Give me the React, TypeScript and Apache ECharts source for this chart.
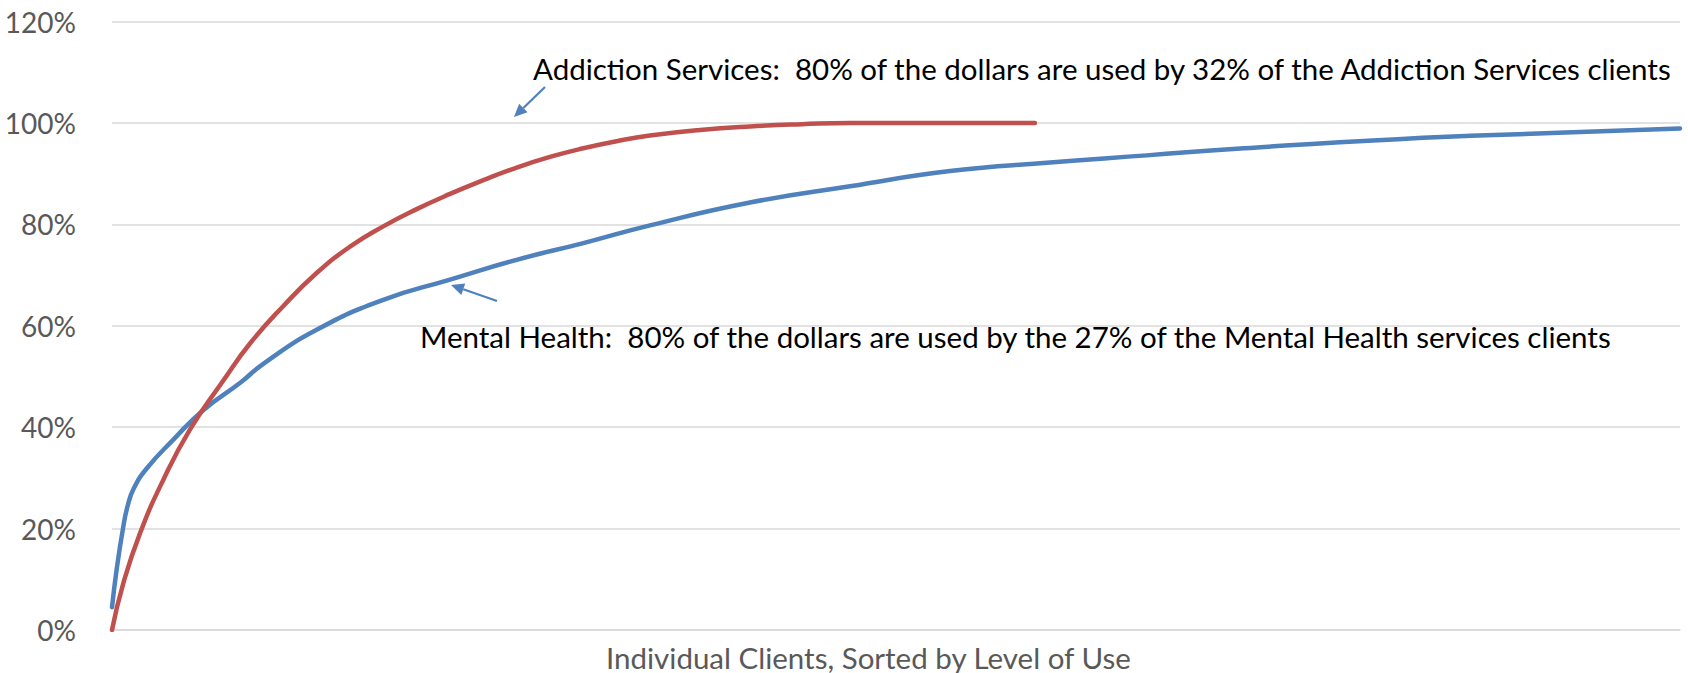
import React, { useEffect, useRef } from "react";
import * as echarts from "echarts";

// Share of clients (%, sorted by level of use) and cumulative share of dollars (%)
const mentalHealthX = [0, 0.3, 0.7, 1.0, 1.4, 2.2, 3.9, 5.8, 8.2, 9.65, 13.05, 17.3, 21.56, 25.81, 30.06, 34.31, 40.69, 47.07, 53.44, 59.82, 66, 72.2, 82, 91.8, 100];
const mentalHealthY = [4.5, 12, 20, 24.5, 28, 31.8, 37.5, 43.3, 48.8, 52.5, 59.2, 65.1, 69.1, 73.0, 76.3, 79.8, 84.3, 87.5, 90.5, 92.2, 93.6, 95.0, 96.8, 98.0, 98.9];

const addictionX = [0, 0.72, 1.79, 3.27, 4.97, 7.1, 8.8, 10.93, 13.05, 15.18, 17.3, 19.43, 21.56, 23.68, 25.81, 27.93, 30.06, 32.19, 34.31, 37.5, 40.69, 44, 47.07, 58.86];
const addictionY = [0, 9.2, 19.1, 29.6, 39.5, 49.2, 56.5, 63.9, 70.4, 75.6, 79.6, 83.0, 86.0, 88.7, 91.2, 93.3, 95.0, 96.4, 97.5, 98.6, 99.3, 99.75, 100, 100];

const yTicks = [0, 20, 40, 60, 80, 100, 120];

const seriesNames = ["Mental Health", "Addiction Services"];
const xAxisTitle = "Individual Clients, Sorted by Level of Use";
const addictionNote = "Addiction Services:  80% of the dollars are used by 32% of the Addiction Services clients";
const mentalNote = "Mental Health:  80% of the dollars are used by the 27% of the Mental Health services clients";

const FONT = "Lato, 'Noto Sans', sans-serif";
const BLUE = "#4F81BD";
const RED = "#C0504D";

function arrow(x1: number, y1: number, x2: number, y2: number) {
  const ang = Math.atan2(y2 - y1, x2 - x1);
  const len = 13;
  const half = 6;
  const bx = x2 - len * Math.cos(ang);
  const by = y2 - len * Math.sin(ang);
  const px = -Math.sin(ang) * half;
  const py = Math.cos(ang) * half;
  return [
    {
      type: "line",
      shape: { x1, y1, x2: bx, y2: by },
      style: { stroke: BLUE, lineWidth: 2.2 },
    },
    {
      type: "polygon",
      shape: { points: [[x2, y2], [bx + px, by + py], [bx - px, by - py]] },
      style: { fill: BLUE },
    },
  ];
}

export default function App() {
  const ref = useRef<HTMLDivElement>(null);
  useEffect(() => {
    if (!ref.current) return;
    const chart = echarts.init(ref.current, undefined, { renderer: "svg" });
    const mh = mentalHealthX.map((x, i) => [x, mentalHealthY[i]]);
    const as = addictionX.map((x, i) => [x, addictionY[i]]);
    chart.setOption({
      animation: false,
      backgroundColor: "#ffffff",
      grid: { left: 112, right: 8, top: 21.5, bottom: 43, containLabel: false },
      xAxis: {
        type: "value",
        min: 0,
        max: 100,
        axisLine: { show: true, lineStyle: { color: "#D9D9D9", width: 1.5 } },
        axisTick: { show: false },
        axisLabel: { show: false },
        splitLine: { show: false },
      },
      yAxis: {
        type: "value",
        min: yTicks[0],
        max: yTicks[yTicks.length - 1],
        interval: 20,
        axisLine: { show: false },
        axisTick: { show: false },
        axisLabel: {
          formatter: (v: number) => v + "%",
          color: "#595959",
          fontFamily: FONT,
          fontSize: 28,
          margin: 36,
        },
        splitLine: { lineStyle: { color: "#D9D9D9", width: 1.5 } },
      },
      series: [
        {
          name: seriesNames[0],
          type: "line",
          data: mh,
          smooth: 0.5,
          showSymbol: false,
          lineStyle: { color: BLUE, width: 4.5, cap: "round" },
          z: 3,
        },
        {
          name: seriesNames[1],
          type: "line",
          data: as,
          smooth: 0.5,
          showSymbol: false,
          lineStyle: { color: RED, width: 4.5, cap: "round" },
          z: 4,
        },
      ],
      graphic: [
        {
          type: "text",
          x: 533,
          y: 68,
          style: { text: addictionNote, fill: "#000000", font: `29.5px ${FONT}`, verticalAlign: "middle" },
        },
        {
          type: "text",
          x: 420,
          y: 336,
          style: { text: mentalNote, fill: "#000000", font: `29.5px ${FONT}`, verticalAlign: "middle" },
        },
        {
          type: "text",
          x: 606,
          y: 657,
          style: { text: xAxisTitle, fill: "#595959", font: `29.5px ${FONT}`, verticalAlign: "middle" },
        },
        ...arrow(545, 87, 514, 117),
        ...arrow(497, 301, 451, 285),
      ],
    });
    return () => chart.dispose();
  }, []);
  return (
    <div
      ref={ref}
      style={{ position: "fixed", left: 0, top: 0, width: 1688, height: 673 }}
    />
  );
}
